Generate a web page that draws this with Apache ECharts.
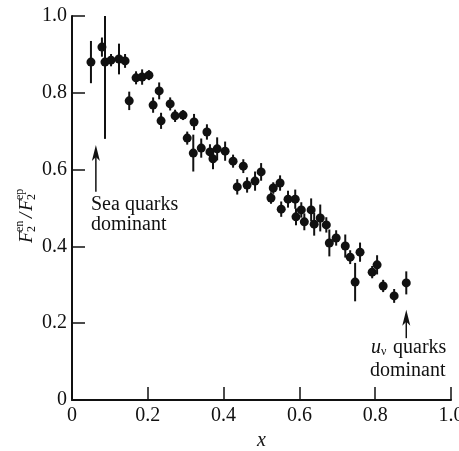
<!DOCTYPE html>
<html>
<head>
<meta charset="utf-8">
<script src="https://cdn.jsdelivr.net/npm/echarts@6/dist/echarts.min.js"></script>
<style>
  html, body { margin: 0; padding: 0; background: #fff; }
  #chart { width: 459px; height: 451px; }
</style>
</head>
<body>
<div id="chart"></div>
<script>
// values (x, F2en/F2ep, half error bar)
const xValues = [0.050, 0.079, 0.087, 0.103, 0.124, 0.140, 0.151, 0.169, 0.185, 0.203,
  0.214, 0.230, 0.235, 0.259, 0.272, 0.293, 0.304, 0.320, 0.322, 0.341,
  0.356, 0.364, 0.372, 0.383, 0.404, 0.425, 0.436, 0.452, 0.462, 0.483,
  0.499, 0.525, 0.531, 0.549, 0.552, 0.570, 0.589, 0.591, 0.605, 0.613,
  0.631, 0.639, 0.655, 0.671, 0.679, 0.697, 0.721, 0.734, 0.747, 0.760,
  0.792, 0.805, 0.821, 0.850, 0.882];
const yValues = [0.880, 0.919, 0.880, 0.885, 0.888, 0.883, 0.779, 0.839, 0.841, 0.846,
  0.768, 0.805, 0.727, 0.771, 0.740, 0.742, 0.682, 0.643, 0.724, 0.656,
  0.698, 0.646, 0.628, 0.654, 0.648, 0.622, 0.555, 0.609, 0.560, 0.570,
  0.594, 0.526, 0.552, 0.565, 0.497, 0.523, 0.523, 0.477, 0.495, 0.464,
  0.495, 0.458, 0.474, 0.456, 0.409, 0.422, 0.401, 0.372, 0.307, 0.385,
  0.333, 0.352, 0.297, 0.271, 0.305];
const yErrors = [0.055, 0.025, 0.200, 0.016, 0.040, 0.018, 0.024, 0.017, 0.020, 0.013,
  0.020, 0.022, 0.021, 0.017, 0.016, 0.013, 0.017, 0.048, 0.021, 0.025,
  0.020, 0.020, 0.027, 0.030, 0.025, 0.017, 0.020, 0.018, 0.020, 0.025,
  0.023, 0.015, 0.015, 0.020, 0.020, 0.022, 0.025, 0.022, 0.020, 0.022,
  0.030, 0.030, 0.035, 0.020, 0.035, 0.020, 0.030, 0.018, 0.050, 0.025,
  0.016, 0.025, 0.016, 0.018, 0.030];
const tickLabels = ['0', '0.2', '0.4', '0.6', '0.8', '1.0'];

// arrows: [x, base y, tip y] in data units
const seaArrow = [0.063, 0.542, 0.664];
const valenceArrow = [0.882, 0.161, 0.235];

const serif = "'Liberation Serif', 'DejaVu Serif', serif";
const ink = '#111';
const yMax = 1.0;

const chart = echarts.init(document.getElementById('chart'));

const axisCommon = {
  type: 'value',
  min: 0,
  max: 1,
  interval: 0.2,
  axisLine: { show: true, lineStyle: { color: ink, width: 2 } },
  axisTick: { show: true, inside: true, length: 13, lineStyle: { color: ink, width: 1.5 } },
  axisLabel: {
    formatter: (v, i) => tickLabels[i],
    fontFamily: serif,
    fontSize: 20,
    color: ink
  },
  splitLine: { show: false }
};

const option = {
  backgroundColor: '#fff',
  animation: false,
  grid: { left: 72, right: 8, top: 16, bottom: 51, outerBoundsMode: 'none' },
  xAxis: Object.assign({}, axisCommon, {
    name: 'x',
    nameLocation: 'middle',
    nameGap: 31,
    nameTextStyle: { fontFamily: serif, fontStyle: 'italic', fontSize: 20, color: ink },
    axisLabel: Object.assign({}, axisCommon.axisLabel, { margin: 6 })
  }),
  yAxis: Object.assign({}, axisCommon, {
    axisLabel: Object.assign({}, axisCommon.axisLabel, { margin: 5 })
  }),
  series: [
    {
      type: 'custom',
      data: xValues.map((x, i) => [x, yValues[i], yErrors[i]]),
      encode: { x: 0, y: 1 },
      renderItem: function (params, api) {
        const x = api.value(0), y = api.value(1), e = api.value(2);
        const top = api.coord([x, Math.min(y + e, yMax)]);
        const bottom = api.coord([x, y - e]);
        return {
          type: 'line',
          shape: { x1: top[0], y1: top[1], x2: bottom[0], y2: bottom[1] },
          style: { stroke: ink, lineWidth: 2 }
        };
      },
      z: 2
    },
    {
      type: 'scatter',
      data: xValues.map((x, i) => [x, yValues[i]]),
      symbol: 'circle',
      symbolSize: 9,
      itemStyle: { color: ink, opacity: 1 },
      z: 3
    }
  ]
};

chart.setOption(option);

function text(x, y, str, size, extra) {
  return {
    type: 'text',
    x: x,
    y: y,
    style: Object.assign({
      text: str,
      font: (extra && extra.italic ? 'italic ' : '') + size + 'px ' + serif,
      fill: ink,
      align: 'left',
      verticalAlign: 'top',
      textAlign: 'left',
      textVerticalAlign: 'top'
    }, extra && extra.style)
  };
}

function arrow(spec) {
  const base = chart.convertToPixel({ gridIndex: 0 }, [spec[0], spec[1]]);
  const tip = chart.convertToPixel({ gridIndex: 0 }, [spec[0], spec[2]]);
  const x = tip[0];
  return [
    {
      type: 'line',
      shape: { x1: x, y1: base[1], x2: x, y2: tip[1] + 8 },
      style: { stroke: ink, lineWidth: 1.5 }
    },
    {
      type: 'polygon',
      shape: { points: [[x, tip[1]], [x - 4, tip[1] + 16], [x, tip[1] + 12], [x + 4, tip[1] + 16]] },
      style: { fill: ink }
    }
  ];
}

// rotated y-axis title F2^en / F2^ep
const mid = { textVerticalAlign: 'middle', verticalAlign: 'middle' };
const yTitle = {
  type: 'group',
  x: 27,
  y: 213,
  rotation: Math.PI / 2,
  children: [
    text(-30, 0, 'F', 19, { italic: true, style: mid }),
    text(-19, 5, '2', 12, { style: mid }),
    text(-19, -7, 'en', 12, { style: mid }),
    text(-5, 0, '/', 19, { italic: true, style: mid }),
    text(2, 0, 'F', 19, { italic: true, style: mid }),
    text(13, 5, '2', 12, { style: mid }),
    text(13, -7, 'ep', 12, { style: mid })
  ]
};

chart.setOption({
  graphic: [
    yTitle,
    text(91, 195, 'Sea quarks', 20),
    text(91, 215, 'dominant', 20),
    text(371, 338, 'u', 20, { italic: true }),
    text(381, 346, 'ν', 12),
    text(393, 338, 'quarks', 20),
    text(370, 361, 'dominant', 20)
  ].concat(arrow(seaArrow), arrow(valenceArrow))
});
</script>
</body>
</html>
